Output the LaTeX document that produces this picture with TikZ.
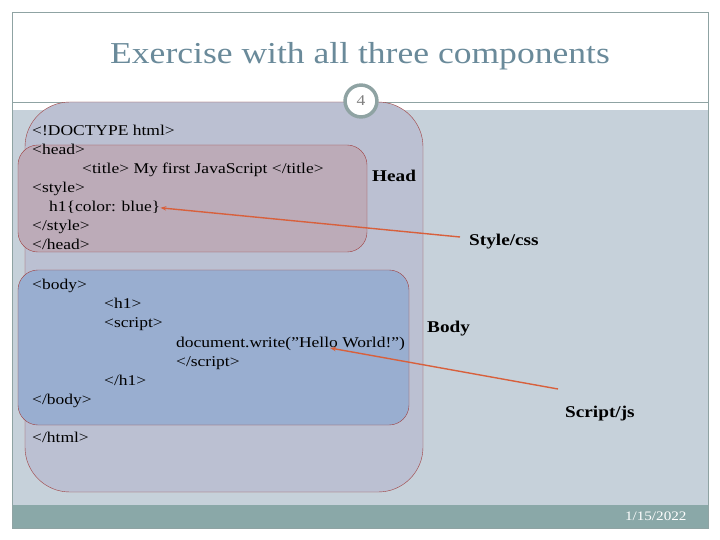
\documentclass[tikz,border=0pt]{standalone}
\usepackage{fontspec}
\usetikzlibrary{arrows.meta}
\setmainfont[FakeStretch=1.17]{Liberation Serif}
\begin{document}
\begin{tikzpicture}[x=1bp,y=-1bp,
  txt/.style={anchor=base west,inner sep=0pt,font=\fontsize{15}{17}\selectfont},
  lbl/.style={anchor=base west,inner sep=0pt,font=\fontsize{16.5}{18}\selectfont\bfseries},
  arr/.style={draw=arrc,line width=1.4pt,-{Stealth[length=6pt]}}]
\definecolor{bg}{HTML}{C6D1DA}
\definecolor{bar}{HTML}{8AA8A8}
\definecolor{frame}{HTML}{8FA3A3}
\definecolor{outerf}{HTML}{BBC0D2}
\definecolor{headf}{HTML}{BCABB8}
\definecolor{bodyf}{HTML}{99AED0}
\definecolor{bord}{HTML}{A04040}
\definecolor{titlec}{HTML}{6A8A9A}
\definecolor{arrc}{HTML}{D8603C}
\useasboundingbox (0,0) rectangle (720,540);
\fill[white] (0,0) rectangle (720,540);
\fill[bg] (12,110) rectangle (708,505);
\fill[bar] (12,505) rectangle (708,528);
\draw[frame] (12,12) rectangle (708,528);
\draw[frame] (12,102) -- (708,102);
\node[font=\fontsize{30.5}{33}\selectfont,text=titlec] (title) at (360,56) {Exercise with all three components};
\draw[bord,fill=outerf,rounded corners=45] (25,102) rectangle (423,492);
\draw[bord,fill=headf,rounded corners=20] (18,145) rectangle (367,252);
\draw[bord,fill=bodyf,rounded corners=20] (18,270) rectangle (409,425);
\node[circle,draw=frame,line width=3.5pt,fill=white,minimum size=32,inner sep=0pt,text=gray,font=\fontsize{15}{16}\selectfont] (num) at (361,101) {4};
\node[txt] (l1) at (32,136) {<!DOCTYPE html>};
\node[txt] (l2) at (32,155) {<head>};
\node[txt] (l3) at (82,174) {<title> My first JavaScript </title>};
\node[txt] (l4) at (32,193) {<style>};
\node[txt] (l5) at (49,212) {h1\{color: blue\}};
\node[txt] (l6) at (32,231) {</style>};
\node[txt] (l7) at (32,250) {</head>};
\node[txt] (b1) at (32,289) {<body>};
\node[txt] (b2) at (104,308) {<h1>};
\node[txt] (b3) at (104,327) {<script>};
\node[txt] (b4) at (176,347) {document.write("Hello World!")};
\node[txt] (b5) at (176,366) {</script>};
\node[txt] (b6) at (104,385) {</h1>};
\node[txt] (b7) at (32,404) {</body>};
\node[txt] (b8) at (32,442) {</html>};
\node[lbl] (head) at (372,182) {Head};
\node[lbl] (style) at (469,246) {Style/css};
\node[lbl] (body) at (427,332) {Body};
\node[lbl] (js) at (565,417) {Script/js};
\node[anchor=east,text=white,font=\fontsize{13}{14}\selectfont] (date) at (690,516) {1/15/2022};
\coordinate (a1) at (460,237);
\coordinate (a2) at (558,389);
\draw[arr] (a1) -- (l5.east);
\draw[arr] (a2) -- (330,348);
\end{tikzpicture}
\end{document}
